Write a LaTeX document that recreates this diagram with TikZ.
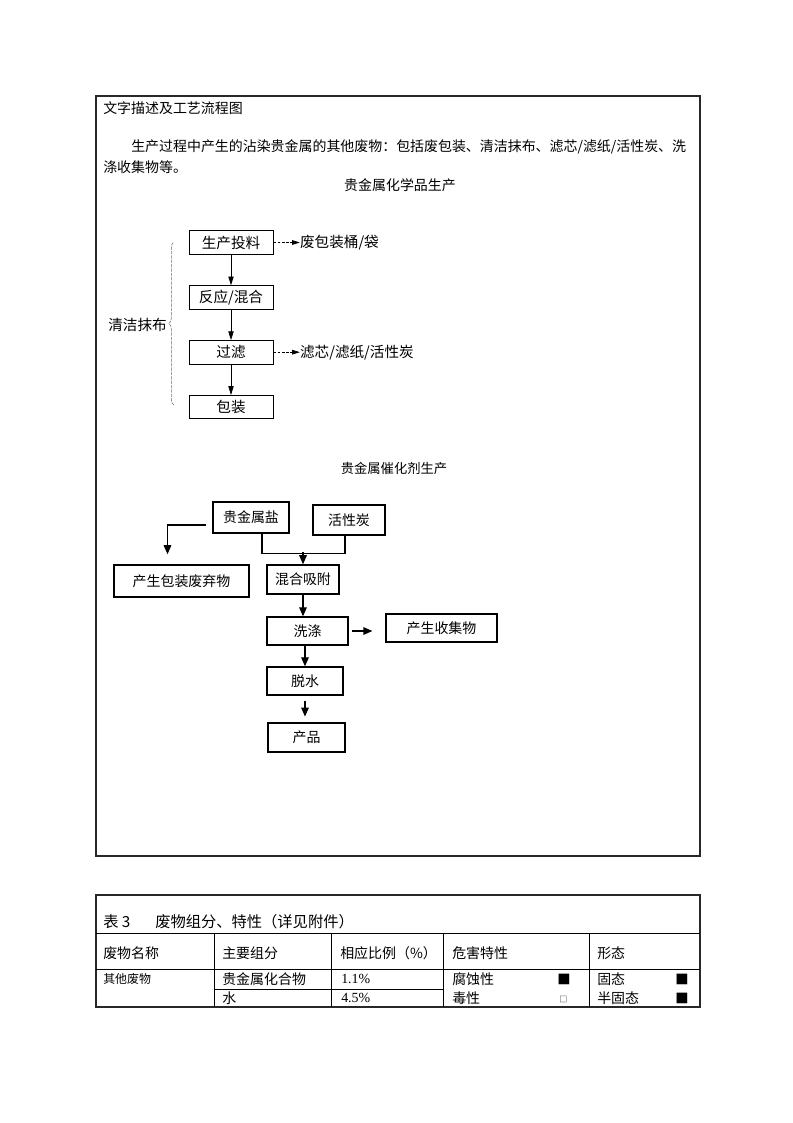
\documentclass[tikz,border=0pt]{standalone}
\usepackage{fontspec}
\setmainfont{Noto Sans CJK SC}
\newfontfamily\numfont{Liberation Serif}
\usepackage{tikz}
\usetikzlibrary{arrows.meta, positioning, calc, decorations.pathreplacing}
\definecolor{framegray}{RGB}{40,40,40}
\definecolor{bracegray}{RGB}{110,110,110}

\begin{document}
\begin{tikzpicture}[
        x=0.2646mm, y=-0.2646mm,
        node distance=8.1mm,
        txt/.style={inner sep=0pt, anchor=west, font=\fontsize{10.5pt}{15pt}\selectfont},
        stage/.style={draw, line width=0.6pt, minimum width=22.2mm, minimum height=6.2mm, inner sep=0pt, font=\fontsize{11pt}{13pt}\selectfont},
        note/.style={inner sep=0pt, font=\fontsize{11pt}{13pt}\selectfont},
        stepbox/.style={draw, line width=1pt, inner sep=0pt, font=\fontsize{10.5pt}{12pt}\selectfont},
        thinarrow/.style={-{Triangle[length=2.3mm, width=1.4mm]}, line width=0.5pt},
        dasharrow/.style={-{Triangle[length=2mm, width=1.2mm]}, line width=0.5pt, dash pattern=on 2pt off 1.2pt},
        arrow/.style={-{Triangle[length=2.4mm, width=2mm]}, line width=1pt},
        cell/.style={inner sep=0pt, anchor=west, font=\fontsize{10.5pt}{12pt}\selectfont}
    ]
        \useasboundingbox (0,0) rectangle (793,1123);
        \fill[white] (0,0) rectangle (793,1123);

        \draw[line width=1pt, framegray] (96,96) rectangle (700,856);
        \node[txt] (head) at (103,108) {文字描述及工艺流程图};
        \node[txt] (para1) at (131,147) {生产过程中产生的沾染贵金属的其他废物：包括废包装、清洁抹布、滤芯/滤纸/活性炭、洗};
        \node[txt] (para2) at (103,167) {涤收集物等。};
        \node[txt, anchor=center] (chemtitle) at (400,185) {贵金属化学品生产};

        \node[stage] (feed) at (231,242.5) {生产投料};
        \node[stage, below=of feed] (react) {反应/混合};
        \node[stage, below=of react] (filter) {过滤};
        \node[stage, below=of filter] (pack) {包装};
        \node[note, right=7mm of feed] (drum) {废包装桶/袋};
        \node[note, right=7mm of filter] (media) {滤芯/滤纸/活性炭};

        \draw[thinarrow] (feed) -- (react);
        \draw[thinarrow] (react) -- (filter);
        \draw[thinarrow] (filter) -- (pack);
        \draw[dasharrow] (feed) -- (drum);
        \draw[dasharrow] (filter) -- (media);

        \coordinate (bracetop) at (174,242);
        \coordinate (bracebot) at (174,405);
        \draw[bracegray, line width=0.4pt, dash pattern=on 2.5pt off 0.8pt, decorate, decoration={brace, amplitude=4pt}] (bracebot) -- (bracetop);
        \node[note, anchor=east] (wipe) at (167,325) {清洁抹布};

        \node[txt, anchor=center, font=\fontsize{10pt}{12pt}\selectfont] (cattitle) at (394,468) {贵金属催化剂生产};

        \node[stepbox, minimum width=20.1mm, minimum height=8.2mm] (salt) at (251,517.5) {贵金属盐};
        \node[stepbox, minimum width=19mm, minimum height=7.9mm] (carbon) at (349,520) {活性炭};
        \node[stepbox, minimum width=35.7mm, minimum height=8.5mm] (waste) at (181.5,581) {产生包装废弃物};
        \node[stepbox, minimum width=19mm, minimum height=7.7mm] (mix) at (303,579.5) {混合吸附};
        \node[stepbox, minimum width=21.4mm, minimum height=7.4mm] (wash) at (307.5,631) {洗涤};
        \node[stepbox, minimum width=29.4mm, minimum height=7.4mm] (collect) at (441.5,628) {产生收集物};
        \node[stepbox, minimum width=20.1mm, minimum height=7.4mm] (dewater) at (305,681) {脱水};
        \node[stepbox, minimum width=20.4mm, minimum height=7.7mm] (product) at (306.5,737.5) {产品};

        \draw[arrow] ($(salt.west)+(-6,7.5)$) -| ($(waste.north)+(-14,-10)$);
        \draw[line width=1pt] ($(salt.south)+(11,0)$) |- ($(carbon.south)+(-4,18)$) -- ($(carbon.south)+(-4,0)$);
        \coordinate (merge) at ($(mix.north)+(0,-12)$);
        \draw[arrow] (merge) -- (mix.north);
        \draw[arrow] (mix.south) -- (mix.south |- wash.north);
        \draw[arrow, shorten <=0.8mm, shorten >=3.4mm] (wash.east) -- (wash.east -| collect.west);
        \draw[arrow] (dewater.north |- wash.south) -- (dewater.north);
        \draw[arrow, shorten <=1.3mm, shorten >=1.5mm] (dewater.south) -- (dewater.south |- product.north);

        \draw[line width=0.8pt, framegray] (96,895) rectangle (700,1007);
        \draw[line width=0.6pt] (96,933) -- (700,933) (96,969) -- (700,969) (214,989) -- (443,989);
        \foreach \cx in {214,331,443,589}
            \draw[line width=0.6pt] (\cx,933) -- (\cx,1007);

        \node[cell, font=\fontsize{11.5pt}{13pt}\selectfont] (tabno) at (103,922) {表 3};
        \node[cell, font=\fontsize{11.5pt}{13pt}\selectfont] (tabname) at (155,922) {废物组分、特性（详见附件）};
        \node[cell] (hname) at (103,953) {废物名称};
        \node[cell] (hpart) at (222,953) {主要组分};
        \node[cell] (hratio) at (340,953) {相应比例（\%）};
        \node[cell] (hhazard) at (452,953) {危害特性};
        \node[cell] (hform) at (597,953) {形态};
        \node[cell, font=\fontsize{9pt}{11pt}\selectfont] (wname) at (103,979) {其他废物};
        \node[cell] (partone) at (222,979) {贵金属化合物};
        \node[cell, font=\fontsize{10.5pt}{12pt}\numfont] (ratioone) at (341,979) {1.1\%};
        \node[cell] (corrode) at (452,979) {腐蚀性};
        \node[cell, font=\fontsize{10pt}{11pt}\selectfont] (corrodebox) at (557,979) {■};
        \node[cell] (solid) at (597,979) {固态};
        \node[cell, font=\fontsize{10pt}{11pt}\selectfont] (solidbox) at (675,979) {■};
        \node[cell] (parttwo) at (222,998) {水};
        \node[cell, font=\fontsize{10.5pt}{12pt}\numfont] (ratiotwo) at (341,998) {4.5\%};
        \node[cell] (toxic) at (452,998) {毒性};
        \node[cell, font=\fontsize{6pt}{7pt}\selectfont] (toxicbox) at (559,999) {□};
        \node[cell] (semi) at (597,998) {半固态};
        \node[cell, font=\fontsize{10pt}{11pt}\selectfont] (semibox) at (675,998) {■};
    \end{tikzpicture}
\end{document}
